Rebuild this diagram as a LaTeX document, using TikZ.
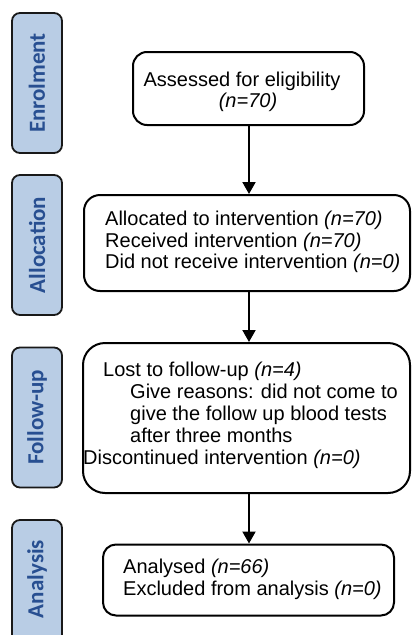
\documentclass[tikz,border=0pt]{standalone}
\usepackage{fontspec}
\setmainfont{Liberation Sans}
\newfontfamily\sidefont{Carlito}
\usetikzlibrary{arrows.meta}
\definecolor{sidefill}{HTML}{B9CDE5}
\definecolor{sidetext}{HTML}{284F91}
\begin{document}
\begin{tikzpicture}[x=1pt,y=-1pt,
  side/.style={draw=black!90, line width=1.8pt, fill=sidefill, rounded corners=8pt,
    minimum width=50pt, minimum height=140pt, inner sep=0pt},
  sidelabel/.style={rotate=90, font=\sidefont\bfseries\fontsize{23}{25}\selectfont, text=sidetext, inner sep=0pt},
  flowbox/.style={draw=black, line width=2pt, inner sep=0pt},
  txt/.style={font=\fontsize{20}{22}\selectfont, inner sep=0pt, anchor=base west},
  arr/.style={line width=2pt, -{Triangle[length=12pt,width=13pt]}}]
\clip (0,0) rectangle (412,635);
\fill[white] (0,0) rectangle (412,635);
% side labels
\node[side] (enr) at (37,83) {};
\node[sidelabel] (enrt) at (enr.center) {Enrolment};
\node[side] (all) at (37,245) {};
\node[sidelabel] (allt) at (all.center) {Allocation};
\node[side] (fol) at (37,417.5) {};
\node[sidelabel] (folt) at (fol.center) {Follow-up};
\node[side] (ana) at (37,590) {};
\node[sidelabel] (anat) at (37,579) {Analysis};
% flow boxes
\node[flowbox, rounded corners=14pt, minimum width=231pt, minimum height=73pt] (b1) at (248.5,88.5) {};
\node[flowbox, rounded corners=16pt, minimum width=326pt, minimum height=96pt] (b2) at (247,243) {};
\node[flowbox, rounded corners=22pt, minimum width=327pt, minimum height=150pt] (b3) at (246.5,418) {};
\node[flowbox, rounded corners=13pt, minimum width=291pt, minimum height=71pt] (b4) at (248.5,580) {};
% texts
\node[txt, anchor=base] (t1a) at (242,86) {Assessed for eligibility};
\node[txt, anchor=base] (t1b) at (248,107) {\textit{(n=70)}};
\node[txt] (t2a) at (105,225) {Allocated to intervention \textit{(n=70)}};
\node[txt] (t2b) at (105,247) {Received intervention \textit{(n=70)}};
\node[txt] (t2c) at (105,268) {Did not receive intervention \textit{(n=0)}};
\node[txt] (t3a) at (103,376) {Lost to follow-up \textit{(n=4)}};
\node[txt] (t3b) at (130,398) {Give reasons: did not come to};
\node[txt] (t3c) at (130,420) {give the follow up blood tests};
\node[txt] (t3d) at (130,442) {after three months};
\node[txt] (t3e) at (83,464) {Discontinued intervention \textit{(n=0)}};
\node[txt] (t4a) at (123,573) {Analysed \textit{(n=66)}};
\node[txt] (t4b) at (123,595) {Excluded from analysis \textit{(n=0)}};
% arrows
\coordinate (x) at (249,0);
\draw[arr] (b1.south -| x) -- (b2.north -| x);
\draw[arr] (b2.south -| x) -- (b3.north -| x);
\draw[arr] (b3.south -| x) -- (b4.north -| x);
\end{tikzpicture}
\end{document}
